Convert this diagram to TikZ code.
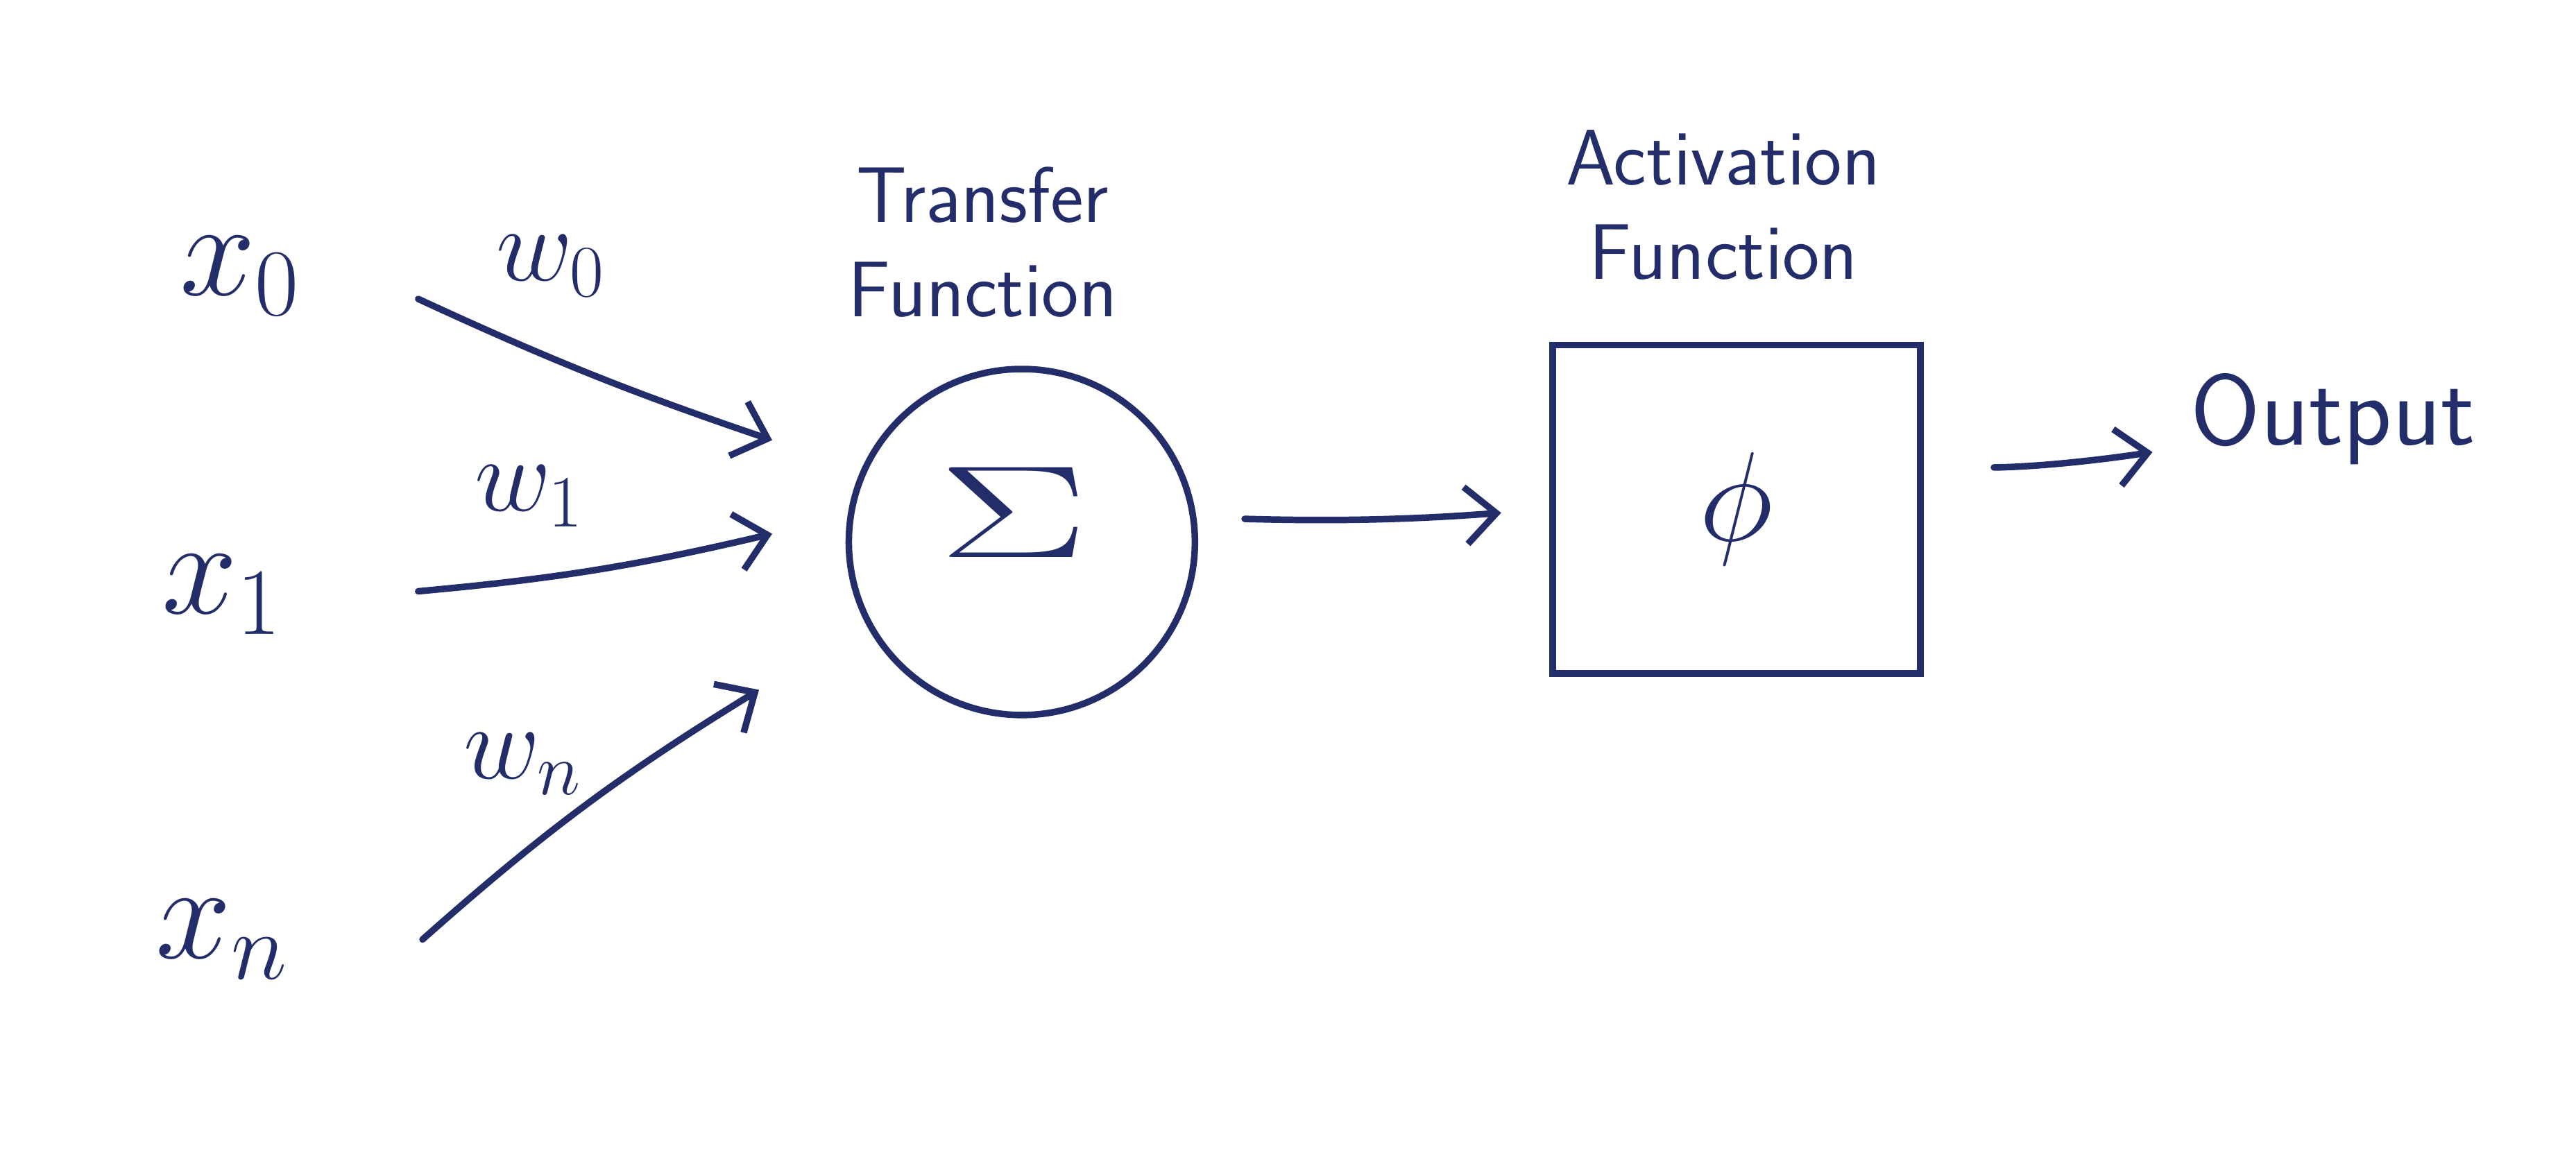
\RequirePackage{fix-cm}
\documentclass[tikz,border=0pt]{standalone}
\usepackage{amsmath,amssymb}
\usetikzlibrary{arrows.meta,positioning}
\definecolor{ink}{RGB}{35,45,105}

\tikzset{
  wire/.style={ink, line width=3pt, line cap=round, -{Straight Barb[length=14pt,width=26pt,line width=3pt]}},
  inp/.style={ink, font=\fontsize{62}{66}\selectfont, inner sep=2pt},
  wlab/.style={ink, font=\fontsize{48}{52}\selectfont, inner sep=1pt},
  heading/.style={ink, font=\sffamily\fontsize{36}{43}\selectfont, align=center, inner sep=0pt},
}

\begin{document}
\begin{tikzpicture}[x=0.75pt,y=0.75pt,yscale=-1,xscale=1]
\path[use as bounding box] (0,0) rectangle (1568,700);

% inputs
\node[inp] (x0) at (146,168) {$x_{0}$};
\node[inp] (x1) at (135,362) {$x_{1}$};
\node[inp] (xn) at (135,572) {$x_{n}$};

% transfer function
\node[ink, circle, draw, line width=3pt, minimum size=158pt, inner sep=0pt] (sum) at (622,330) {};
\node[ink, font=\fontsize{60}{64}\selectfont] (sig) at (617,312) {\scalebox{1.7}[1]{$\Sigma$}};
\node[heading, above=22pt of sum, xshift=-18pt] (tf) {Transfer\\Function};

% activation function
\node[ink, rectangle, draw, line width=3pt, minimum width=168pt, minimum height=150pt,
      font=\fontsize{58}{62}\selectfont] (act) at (1057,310) {$\phi$};
\node[heading, above=28pt of act, xshift=-6pt] (af) {Activation\\Function};

\node[ink, font=\sffamily\fontsize{46}{50}\selectfont] (out) at (1420,255) {Output};

% weighted inputs
\coordinate (in0) at (470,268);
\coordinate (in1) at (470,325);
\coordinate (inn) at (462,420);
\draw[wire] ([shift={(69,14)}]x0.east) to[bend left=3] (in0);
\draw[wire] ([shift={(80,-2)}]x1.east) to[bend left=4] (in1);
\draw[wire] ([shift={(79,0)}]xn.east) to[bend right=5] (inn);

\node[wlab] (w0) at (335,162) {$w_{0}$};
\node[wlab] (w1) at (322,302) {$w_{1}$};
\node[wlab] (wn) at (318,465) {$w_{n}$};

% sum -> activation -> output
\draw[wire, shorten <=22pt, shorten >=22pt] (sum.8) to[bend left=3] (act.west);
\draw[wire, shorten <=32pt, shorten >=14pt] ([shift={(0,-25)}]act.east) to[bend left=4] (out);

\end{tikzpicture}
\end{document}
